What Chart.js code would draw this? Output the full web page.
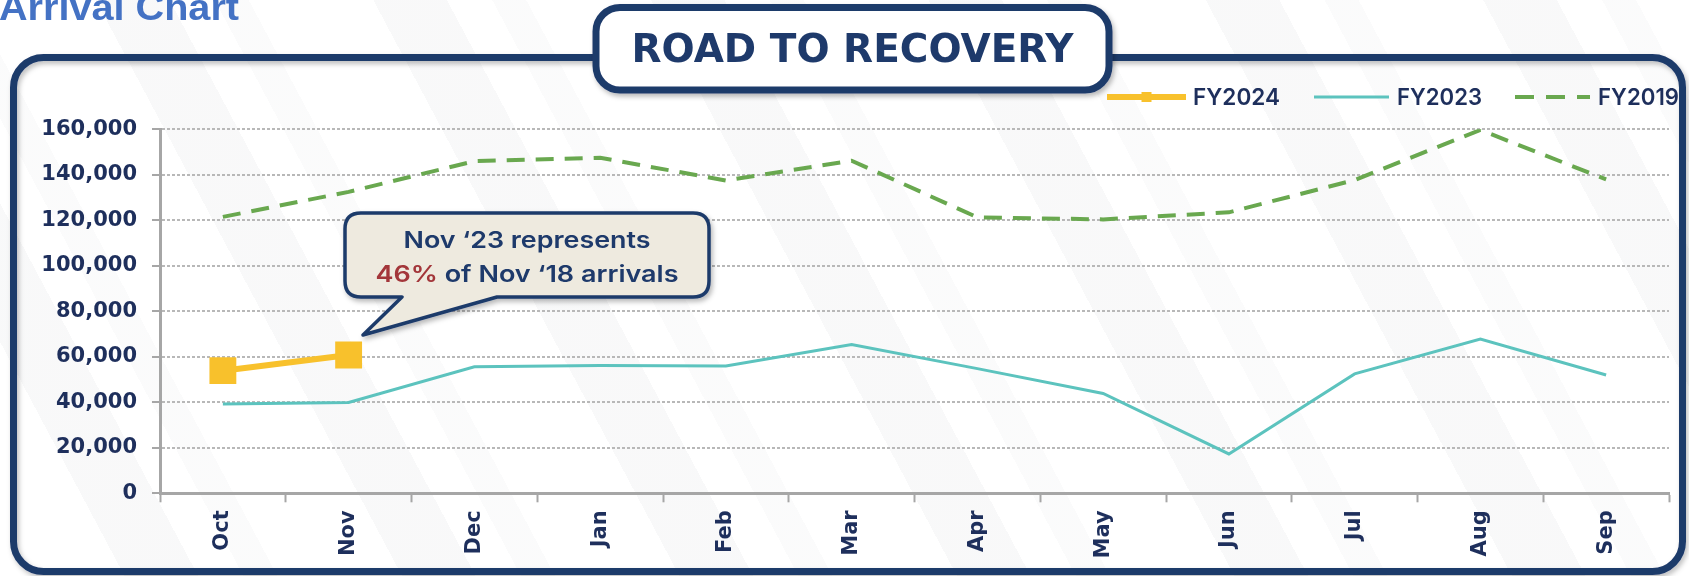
<!DOCTYPE html>
<html><head><meta charset="utf-8">
<script src="https://cdn.jsdelivr.net/npm/chart.js@4.4.1/dist/chart.umd.min.js"></script>
<style>
html,body{margin:0;padding:0;width:1689px;height:576px;overflow:hidden;background:#fff;}
.layer{position:absolute;left:0;top:0;width:1689px;height:576px;}
#stripes{background:repeating-linear-gradient(62deg, rgba(0,0,0,0) 0px, rgba(0,0,0,0) 110px, rgba(40,50,70,0.03) 110px, rgba(40,50,70,0.03) 175px, rgba(0,0,0,0) 175px, rgba(0,0,0,0) 215px, rgba(40,50,70,0.02) 215px, rgba(40,50,70,0.02) 245px);}
</style>
</head><body>
<div class="layer" id="stripes"></div>
<svg class="layer" id="under" width="1689" height="576">
  <defs>
    <filter id="sh" x="-5%" y="-5%" width="110%" height="115%">
      <feDropShadow dx="2" dy="3" stdDeviation="2.5" flood-color="#000" flood-opacity="0.25"/>
    </filter>
  </defs>
  <rect x="13.5" y="57.5" width="1669" height="514" rx="30" ry="30" fill="none" stroke="#1E3A6B" stroke-width="7" filter="url(#sh)"/>
</svg>
<canvas id="c" class="layer" width="1689" height="576"></canvas>
<svg class="layer" id="over" width="1689" height="576">
  <defs>
    <filter id="sh2" x="-10%" y="-10%" width="120%" height="130%">
      <feDropShadow dx="2" dy="3" stdDeviation="2.5" flood-color="#000" flood-opacity="0.28"/>
    </filter>
  </defs>
  <text x="-1" y="20" font-family="Liberation Sans, Arial, sans-serif" font-weight="bold" font-size="36" fill="#4472C4" textLength="240" lengthAdjust="spacingAndGlyphs">Arrival Chart</text>
  <rect x="596" y="7.5" width="513" height="82.5" rx="24" ry="24" fill="#fff" stroke="#1E3A6B" stroke-width="7" filter="url(#sh2)"/>
  <text x="852.5" y="62" text-anchor="middle" font-family="DejaVu Sans, sans-serif" font-weight="bold" font-size="39" fill="#1E3A6B" textLength="442" lengthAdjust="spacingAndGlyphs">ROAD TO RECOVERY</text>
  <path d="M 361 213 H 693 Q 709 213 709 229 V 281 Q 709 297 693 297 H 497 L 363 335 L 402 297 H 361 Q 345 297 345 281 V 229 Q 345 213 361 213 Z" fill="#EEEADF" stroke="#1E3A6B" stroke-width="3.5" stroke-linejoin="round" filter="url(#sh2)"/>
  <text x="527" y="248" text-anchor="middle" font-family="Inter, DejaVu Sans, sans-serif" font-weight="600" font-size="23" fill="#1E3A6B" textLength="247" lengthAdjust="spacingAndGlyphs">Nov ‘23 represents</text>
  <text x="527" y="281.5" text-anchor="middle" font-family="Inter, DejaVu Sans, sans-serif" font-weight="600" font-size="23" fill="#1E3A6B" textLength="303" lengthAdjust="spacingAndGlyphs"><tspan fill="#A3363A">46%</tspan> of Nov ‘18 arrivals</text>
  <g id="legend"></g>
</svg>
<script>
// ---- data ----
const MONTHS = ['Oct','Nov','Dec','Jan','Feb','Mar','Apr','May','Jun','Jul','Aug','Sep'];
const FY2024 = [53900, 60800];
const FY2023 = [39300, 39900, 55600, 56200, 56000, 65400, 54800, 43900, 17300, 52500, 67800, 52000];
const FY2019 = [121500, 132500, 146000, 147500, 137500, 146200, 121300, 120400, 123500, 137700, 159700, 138000];
const Y_MIN = 0, Y_MAX = 160000, Y_STEP = 20000;

// ---- styles ----
const NAVY = '#1E2F5C';
const YELLOW = '#F8C12C';
const TEAL = '#5CC3BE';
const GREEN = '#69A84F';
const AXIS = '#A6A6A6';
const GRID = '#B8B8B8';
const FONT = 'DejaVu Sans';

const ctx = document.getElementById('c').getContext('2d');
new Chart(ctx, {
  type: 'line',
  data: {
    labels: MONTHS,
    datasets: [
      {label:'FY2019', data:FY2019, borderColor:GREEN, borderWidth:4, borderDash:[18,11], pointRadius:0, tension:0, fill:false, order:3},
      {label:'FY2023', data:FY2023, borderColor:TEAL, borderWidth:3, pointRadius:0, tension:0, fill:false, order:2},
      {label:'FY2024', data:FY2024, borderColor:YELLOW, backgroundColor:YELLOW, borderWidth:6, pointStyle:'rect', pointRadius:19, pointBorderWidth:0, pointHoverRadius:19, tension:0, fill:false, order:1}
    ]
  },
  options: {
    responsive:false, animation:false, devicePixelRatio:1,
    layout:{padding:{top:129.3, right:20, left:0, bottom:0}},
    plugins:{legend:{display:false}, tooltip:{enabled:false}},
    events:[],
    scales:{
      x:{
        offset:true,
        grid:{display:true, drawOnChartArea:false, drawTicks:true, tickLength:9, tickColor:AXIS, tickWidth:2, offset:true},
        border:{display:true, color:AXIS, width:3},
        ticks:{minRotation:90, maxRotation:90, padding:8, color:NAVY, font:{family:FONT, weight:'bold', size:21}},
        afterFit(s){ s.height = 82.7; }
      },
      y:{
        min:Y_MIN, max:Y_MAX,
        ticks:{stepSize:Y_STEP, padding:15, color:NAVY, font:{family:FONT, weight:'bold', size:21},
               callback:(v)=>v.toLocaleString('en-US')},
        grid:{color:GRID, lineWidth:2, tickLength:8, tickColor:AXIS, tickWidth:2, tickBorderDash:[]},
        border:{display:true, color:AXIS, width:3, dash:[3,2]},
        afterFit(s){ s.width = 160; }
      }
    }
  }
});

// ---- legend (SVG) ----
const NS = 'http://www.w3.org/2000/svg';
const lg = document.getElementById('legend');
function el(tag, attrs, text){ const e=document.createElementNS(NS,tag); for(const k in attrs) e.setAttribute(k, attrs[k]); if(text) e.textContent=text; lg.appendChild(e); return e; }
const LEG = [
  {name:'FY2024', color:YELLOW, x1:1107, x2:1186, tx:1193, tw:87, w:6, dash:null, marker:true},
  {name:'FY2023', color:TEAL, x1:1314, x2:1389, tx:1397, tw:85, w:3, dash:null, marker:false},
  {name:'FY2019', color:GREEN, x1:1515, x2:1590, tx:1598, tw:81, w:4, dash:'19 12', marker:false}
];
LEG.forEach(L=>{
  const a={x1:L.x1, y1:97, x2:L.x2, y2:97, stroke:L.color, 'stroke-width':L.w};
  if(L.dash) a['stroke-dasharray']=L.dash;
  el('line', a);
  if(L.marker) el('rect',{x:(L.x1+L.x2)/2-5, y:92, width:10, height:10, fill:L.color});
  el('text',{x:L.tx, y:105, 'font-family':'Inter, '+FONT+', sans-serif', 'font-weight':600, 'font-size':23, fill:NAVY, textLength:L.tw, lengthAdjust:'spacingAndGlyphs'}, L.name);
});
</script>
</body></html>
